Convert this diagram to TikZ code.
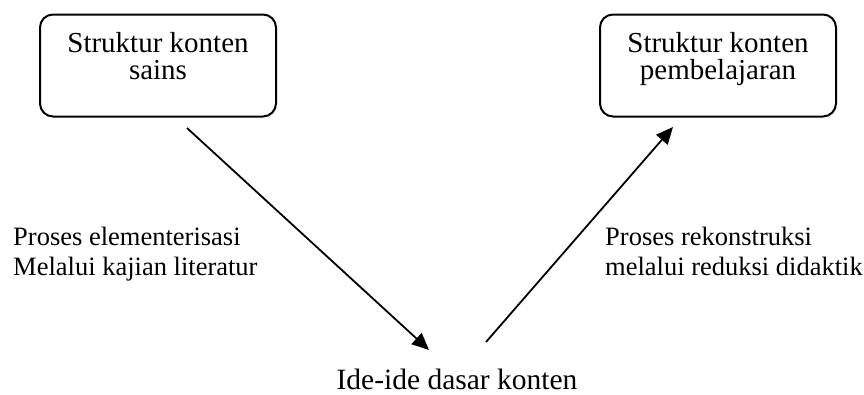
\documentclass[tikz,border=0pt]{standalone}
\usepackage{fontspec}
\setmainfont{Liberation Serif}
\usetikzlibrary{arrows.meta}
\begin{document}
\begin{tikzpicture}[x=1pt,y=-1pt,
  box/.style={draw,line width=2pt,rounded corners=13pt,minimum width=236pt,minimum height=102pt,inner sep=0pt},
  boxtext/.style={align=center,inner sep=0pt,anchor=north,font=\fontsize{29}{27}\selectfont},
  lbl/.style={align=left,inner sep=0pt,anchor=north west,font=\fontsize{26.5}{30}\selectfont},
  arr/.style={line width=1.8pt,-{Triangle[length=17pt,width=15pt]}}]
\useasboundingbox (0,0) rectangle (864,394);
\node[box] (sains) at (158,65.5) {};
\node[box] (pemb) at (718,65.5) {};
\node[boxtext] (t1) at (158,32) {Struktur konten\\sains};
\node[boxtext] (t2) at (718,32) {Struktur konten\\pembelajaran};
\node[inner sep=0pt,anchor=base,font=\fontsize{29.5}{30}\selectfont] (ide) at (457,389) {Ide-ide dasar konten};
\node[lbl] (l1) at (13,227) {Proses elementerisasi\\Melalui kajian literatur};
\node[lbl] (l2) at (605,227) {Proses rekonstruksi\\melalui reduksi didaktik};
\coordinate (a1s) at (187,128);
\coordinate (a1e) at (429,350);
\coordinate (a2s) at (486,342);
\coordinate (a2e) at (673,127);
\draw[arr] (a1s) -- (a1e);
\draw[arr] (a2s) -- (a2e);
\end{tikzpicture}
\end{document}
